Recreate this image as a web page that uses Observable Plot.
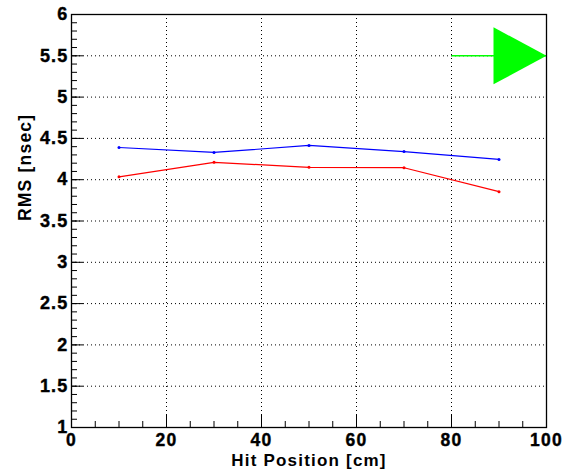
<!DOCTYPE html>
<html>
<head>
<meta charset="utf-8">
<script src="https://cdn.jsdelivr.net/npm/d3@7"></script>
<script src="https://cdn.jsdelivr.net/npm/@observablehq/plot@0.6"></script>
<style>
  html, body { margin: 0; padding: 0; background: #fff; }
  svg { display: block; }
</style>
</head>
<body>
<div id="chart"></div>
<script>
const hitPosition = [10, 30, 50, 70, 90];
const rmsBlue = [4.39, 4.33, 4.415, 4.34, 4.245];
const rmsRed = [4.035, 4.21, 4.15, 4.145, 3.855];
const xMajorTicks = [0, 20, 40, 60, 80, 100];
const xMinorTicks = d3.range(0, 101, 5);
const yMajorTicks = [1, 1.5, 2, 2.5, 3, 3.5, 4, 4.5, 5, 5.5, 6];
const yMinorTicks = d3.range(10, 61, 1).map(v => v / 10);
const arrowX1 = [80];
const arrowX2 = [100];
const arrowY = [5.5];

const blue = hitPosition.map((x, i) => ({x, y: rmsBlue[i]}));
const red = hitPosition.map((x, i) => ({x, y: rmsRed[i]}));
const arrows = arrowX1.map((x1, i) => ({x1, x2: arrowX2[i], y: arrowY[i]}));

const W = 565, H = 475;
const mL = 71, mR = 19, mT = 14, mB = 48;
const fw = W - mL - mR, fh = H - mT - mB;
const font = "'Liberation Sans', Arial, Helvetica, sans-serif";

const triangleHead = {
  draw(ctx) {
    const w = 53, h = 57;
    ctx.moveTo(0, 0);
    ctx.lineTo(-w, -h / 2);
    ctx.lineTo(-w, h / 2);
    ctx.closePath();
  }
};

const chart = Plot.plot({
  width: W,
  height: H,
  marginLeft: mL,
  marginRight: mR,
  marginTop: mT,
  marginBottom: mB,
  style: {fontFamily: font, fontWeight: "bold", letterSpacing: "1.2px", background: "#fff"},
  x: {domain: [0, 100], axis: null},
  y: {domain: [1, 6], axis: null},
  marks: [
    Plot.gridX(xMajorTicks.filter(v => v > 0 && v < 100), {stroke: "#000", strokeOpacity: 1, strokeDasharray: "1,3", strokeWidth: 1}),
    Plot.gridY(yMajorTicks.filter(v => v > 1 && v < 6), {stroke: "#000", strokeOpacity: 1, strokeDasharray: "1,3", strokeWidth: 1}),
    // inward ticks
    Plot.tickY(yMajorTicks, {y: d => d, stroke: "#000", insetRight: fw - 12}),
    Plot.tickY(yMinorTicks, {y: d => d, stroke: "#000", insetRight: fw - 6}),
    Plot.tickX(xMajorTicks, {x: d => d, stroke: "#000", insetTop: fh - 12}),
    Plot.tickX(xMinorTicks, {x: d => d, stroke: "#000", insetTop: fh - 6}),
    // tick labels
    Plot.text(yMajorTicks, {y: d => d, text: d => String(d), frameAnchor: "left", textAnchor: "end", dx: -3, fontSize: 18, fontWeight: "bold", fill: "#000", stroke: "#000", strokeWidth: 0.4}),
    Plot.text(xMajorTicks, {x: d => d, text: d => String(d), frameAnchor: "bottom", lineAnchor: "top", dy: 6, fontSize: 17.5, fontWeight: "bold", fill: "#000", stroke: "#000", strokeWidth: 0.4}),
    // axis titles
    Plot.text(["Hit Position [cm]"], {frameAnchor: "bottom", dy: 38, fontSize: 17, fontWeight: "bold", fill: "#000"}),
    Plot.text(["RMS [nsec]"], {frameAnchor: "left", dx: -46, rotate: -90, fontSize: 17.5, fontWeight: "bold", fill: "#000"}),
    // series
    Plot.line(blue, {x: "x", y: "y", stroke: "#0000ff", strokeWidth: 1.2}),
    Plot.dot(blue, {x: "x", y: "y", r: 1.5, fill: "#0000ff"}),
    Plot.line(red, {x: "x", y: "y", stroke: "#ff0000", strokeWidth: 1.2}),
    Plot.dot(red, {x: "x", y: "y", r: 1.5, fill: "#ff0000"}),
    // arrow
    Plot.link(arrows, {x1: "x1", x2: "x2", y1: "y", y2: "y", stroke: "#00ff00", strokeWidth: 1.5}),
    Plot.dot(arrows, {x: "x2", y: "y", symbol: triangleHead, fill: "#00ff00", stroke: "none"}),
    Plot.frame({stroke: "#000", strokeWidth: 1.3})
  ]
});
document.getElementById("chart").appendChild(chart);
</script>
</body>
</html>
